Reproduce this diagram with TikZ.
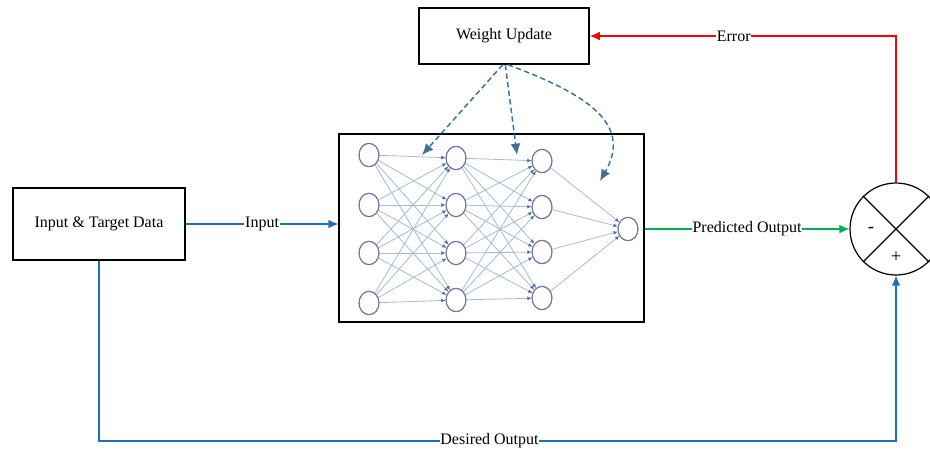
\documentclass[tikz,border=0pt]{standalone}
\usepackage{fontspec}
\setmainfont{Liberation Serif}
\usetikzlibrary{arrows.meta,shapes.geometric}

\definecolor{flowblue}{HTML}{1C6FC0}
\definecolor{flowgreen}{HTML}{00B050}
\definecolor{flowred}{HTML}{FF0000}
\definecolor{dashblue}{HTML}{3E6F9E}
\definecolor{netedge}{HTML}{A6BBD2}
\definecolor{nettip}{HTML}{4A6E96}
\definecolor{neuron}{HTML}{7A6EA6}

\tikzset{
  block/.style={draw, line width=1.2pt, rectangle, inner sep=0pt},
  flow/.style={line width=1pt, -{Latex[length=7.5pt,width=6.5pt]}},
  tag/.style={fill=white, text=black, inner sep=0.6pt},
  neuronnode/.style={draw=neuron, line width=0.7pt, ellipse, fill=white,
    minimum width=15pt, minimum height=17.5pt, inner sep=0pt},
  netlink/.style={draw=netedge, line width=0.6pt,
    -{Latex[length=3.2pt,width=2.8pt,color=nettip]}},
  update/.style={draw=dashblue, line width=1.1pt, dash pattern=on 4pt off 2.5pt,
    -{Latex[length=8.5pt,width=7.5pt]}},
}

\begin{document}
\begin{tikzpicture}[x=0.75pt, y=-0.75pt, font=\fontsize{12}{14}\selectfont]
\useasboundingbox (0,0) rectangle (930,451);

% main blocks
\node[block, minimum width=129pt, minimum height=54pt] (inp) at (99,224) {Input \& Target Data};
\node[block, minimum width=127.5pt, minimum height=42pt] (wu) at (504,36) {Weight Update};
\node[draw, line width=0.9pt, rectangle, minimum width=228.75pt, minimum height=141pt] (net) at (491.5,228) {};

% summing junction
\node[draw, line width=0.9pt, circle, minimum size=69pt, inner sep=0pt] (sum) at (896,229) {};
\draw[line width=0.9pt] (sum.135) -- (sum.-45);
\draw[line width=0.9pt] (sum.45) -- (sum.-135);
\node[font=\fontsize{14}{16}\selectfont] (minus) at (871,230) {-};
\node[font=\fontsize{14}{16}\selectfont] (plus) at (896,257) {+};

% neural network layers
\foreach \y [count=\i] in {155,205,253,303} \node[neuronnode] (a\i) at (369,\y) {};
\foreach \y [count=\i] in {158,205,253,300} \node[neuronnode] (b\i) at (456,\y) {};
\foreach \y [count=\i] in {161,207,252,298} \node[neuronnode] (c\i) at (542,\y) {};
\node[neuronnode] (o) at (628,229) {};

% fully connected links between layers
\foreach \i in {1,...,4} {
  \foreach \j in {1,...,4} {
    \draw[netlink] (a\i) -- (b\j);
    \draw[netlink] (b\i) -- (c\j);
  }
  \draw[netlink] (c\i) -- (o);
}
% redraw neuron outlines on top of the links
\foreach \n in {a1,a2,a3,a4,b1,b2,b3,b4,c1,c2,c3,c4,o}
  \draw[neuron, line width=0.7pt] (\n.center) ellipse (7.5pt and 8.75pt);

% signal flow
\draw[flow, flowblue] (inp.east) -- (inp.east -| net.west) node[tag, midway] (lin) {Input};
\draw[flow, flowgreen] (net.east |- sum) -- (sum.west) node[tag, midway] (lpred) {Predicted Output};
\draw[flow, flowred] (sum.north) |- (wu.east) node[tag, pos=0.765] (lerr) {Error};
\coordinate (floor) at (0,441);
\draw[flow, flowblue] (inp.south) -- (inp.south |- floor) -| (sum.south)
  node[tag, pos=0.245] (ldes) {Desired Output};

% weight updates fed back into the network
\coordinate (w1) at (422,155);
\coordinate (w2) at (517,155);
\coordinate (w3) at (600,181);
\draw[update] ([xshift=-1pt]wu.south) -- (w1);
\draw[update] ([xshift=1pt]wu.south) -- (w2);
\draw[update] ([xshift=3pt]wu.south) .. controls (590,95) and (632,125) .. (w3);
\end{tikzpicture}
\end{document}
